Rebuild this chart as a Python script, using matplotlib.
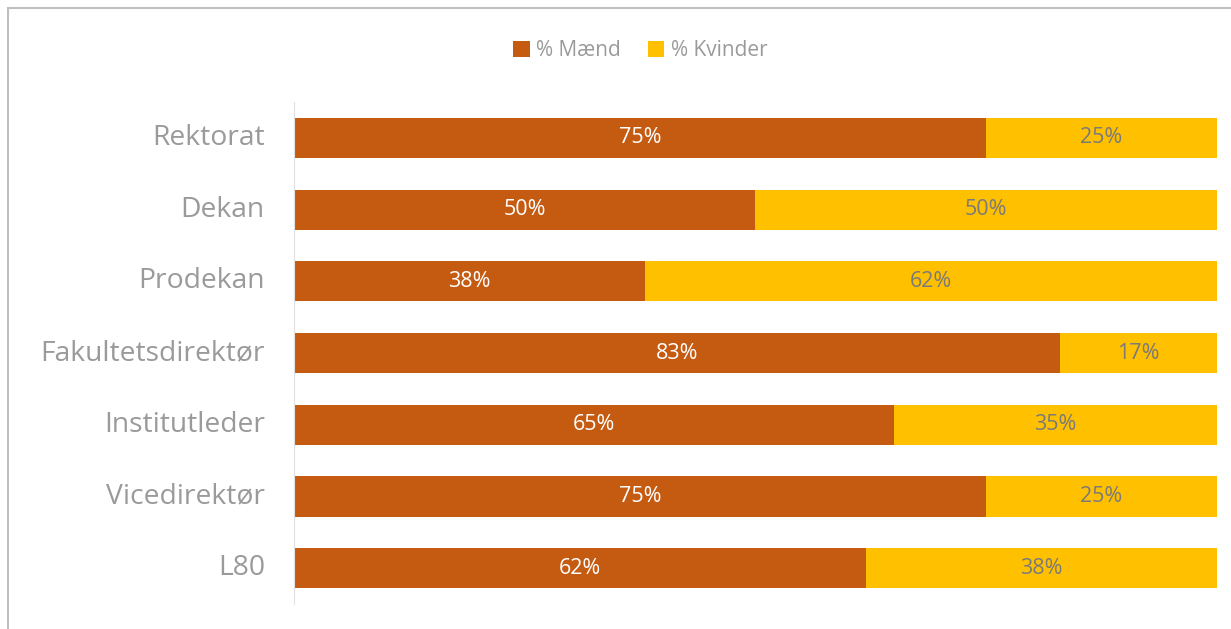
import matplotlib.pyplot as plt
from matplotlib.patches import Rectangle

categories = ["Rektorat", "Dekan", "Prodekan", "Fakultetsdirektør",
              "Institutleder", "Vicedirektør", "L80"]
maend = [75, 50, 38, 83, 65, 75, 62]
kvinder = [25, 50, 62, 17, 35, 25, 38]

plt.rcParams["font.family"] = ["Open Sans", "DejaVu Sans"]

fig = plt.figure(figsize=(12.31, 6.29), dpi=100)
ax = fig.add_axes([0.2388, 0.0397, 0.7498, 0.7981])

y = list(range(len(categories)))
ax.barh(y, maend, height=0.56, color="#C55A11", label="% Mænd")
ax.barh(y, kvinder, left=maend, height=0.56, color="#FFC000", label="% Kvinder")

for i in y:
    ax.text(maend[i] / 2, i, f"{maend[i]}%", ha="center", va="center",
            color="white", fontsize=15.5)
    ax.text(maend[i] + kvinder[i] / 2, i, f"{kvinder[i]}%", ha="center",
            va="center", color="#7a7a7a", fontsize=15.5)

ax.set_xlim(0, 100)
ax.set_ylim(len(categories) - 0.5, -0.5)
ax.set_yticks(y)
ax.set_yticklabels(categories, fontsize=20.3, color="#9a9a9a", va="center")
ax.tick_params(axis="y", length=0, pad=21)
ax.set_xticks([])
for s in ["top", "right", "bottom"]:
    ax.spines[s].set_visible(False)
ax.spines["left"].set_color("#e0e0e0")

fig.legend(loc="center", bbox_to_anchor=(0.52, 0.92), ncol=2, frameon=False,
           fontsize=15, labelcolor="#9a9a9a", handlelength=0.8, handleheight=0.8,
           handletextpad=0.3, columnspacing=1.3)

fig.patches.append(Rectangle((8 / 1231, -0.1), 1.2, 1 - 8 / 629 + 0.1,
                             transform=fig.transFigure, fill=False,
                             edgecolor="#bfbfbf", linewidth=1.5))

fig.savefig("out.png", dpi=100)
